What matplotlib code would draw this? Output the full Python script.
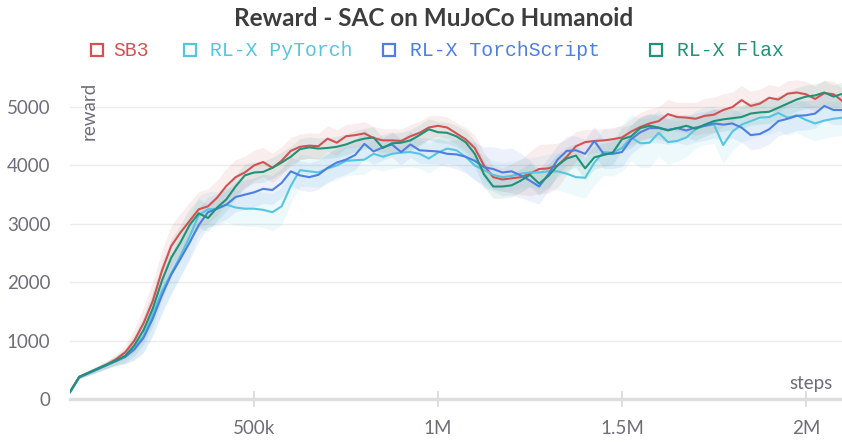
import numpy as np
import matplotlib
matplotlib.use("Agg")
import matplotlib.pyplot as plt
from matplotlib.patches import Rectangle
from matplotlib.ticker import FuncFormatter

# x grid in thousands of steps
steps_k = list(range(0, 2101, 25))

sb3 = [120, 380, 450, 520, 590, 680, 800, 1000, 1300, 1680,
       2200, 2620, 2850, 3050, 3250, 3300, 3450, 3650, 3800, 3880,
       4000, 4060, 3960, 4080, 4250, 4320, 4340, 4330, 4460, 4390,
       4500, 4520, 4550, 4470, 4430, 4430, 4420, 4500, 4560, 4650,
       4680, 4650, 4550, 4450, 4300, 4000, 3800, 3760, 3780, 3800,
       3860, 3940, 3950, 4000, 4150, 4330, 4400, 4420, 4430, 4450,
       4480, 4580, 4660, 4720, 4760, 4880, 4830, 4820, 4800, 4850,
       4870, 4950, 5000, 5120, 5020, 5060, 5160, 5130, 5230, 5250,
       5220, 5140, 5240, 5220, 5100]
pytorch = [120, 370, 440, 510, 580, 650, 730, 870, 1080, 1450,
           1850, 2150, 2450, 2780, 3150, 3250, 3260, 3330, 3280, 3260,
           3260, 3240, 3200, 3300, 3650, 3920, 3900, 3880, 3950, 4000,
           4080, 4090, 4100, 4200, 4150, 4200, 4220, 4230, 4200, 4120,
           4220, 4290, 4260, 4150, 4000, 3920, 3840, 3800, 3820, 3860,
           3880, 3880, 3900, 3900, 3860, 3800, 3790, 4050, 4230, 4220,
           4300, 4480, 4380, 4390, 4560, 4400, 4420, 4480, 4620, 4680,
           4700, 4350, 4580, 4700, 4760, 4820, 4830, 4900, 4820, 4860,
           4780, 4720, 4770, 4800, 4820]
torchscript = [120, 370, 440, 510, 580, 650, 720, 850, 1050, 1380,
               1780, 2130, 2400, 2680, 2980, 3200, 3260, 3330, 3460, 3500,
               3540, 3600, 3580, 3700, 3900, 3830, 3800, 3840, 3960, 4050,
               4100, 4180, 4370, 4240, 4310, 4360, 4230, 4360, 4260, 4250,
               4240, 4200, 4190, 4150, 4080, 3970, 3940, 3880, 3900, 3830,
               3740, 3640, 3850, 4100, 4250, 4260, 4200, 4420, 4200, 4200,
               4230, 4450, 4570, 4640, 4640, 4610, 4640, 4600, 4650, 4680,
               4720, 4700, 4720, 4650, 4520, 4540, 4620, 4760, 4800, 4850,
               4860, 4890, 5020, 4950, 4950]
flax = [120, 380, 450, 520, 590, 660, 740, 920, 1180, 1550,
        2030, 2420, 2680, 2980, 3180, 3100, 3280, 3420, 3640, 3830,
        3880, 3890, 3960, 4050, 4150, 4280, 4310, 4290, 4300, 4320,
        4360, 4420, 4460, 4480, 4300, 4380, 4390, 4430, 4520, 4620,
        4570, 4560, 4500, 4400, 4200, 3850, 3640, 3640, 3660, 3740,
        3840, 3690, 3820, 4000, 4120, 4170, 3950, 4140, 4180, 4220,
        4450, 4500, 4640, 4680, 4650, 4600, 4640, 4680, 4630, 4700,
        4760, 4790, 4810, 4830, 4890, 4910, 4920, 4990, 5060, 5130,
        5180, 5200, 5250, 5180, 5230]

# half-width of the shaded min/max band
sb3_spread = [20, 30, 40, 50, 60, 80, 120, 200, 280, 330,
              350, 350, 330, 320, 300, 300, 300, 300, 300, 280,
              260, 250, 250, 240, 230, 220, 220, 220, 220, 220,
              200, 200, 200, 200, 200, 200, 200, 200, 200, 200,
              180, 180, 180, 200, 220, 220, 200, 200, 250, 300,
              380, 420, 420, 380, 300, 250, 220, 200, 200, 200,
              200, 220, 250, 250, 250, 250, 250, 260, 280, 300,
              300, 280, 260, 250, 250, 250, 230, 220, 220, 220,
              220, 220, 220, 220, 220]
pytorch_spread = [20, 30, 40, 50, 60, 80, 120, 200, 280, 330,
                  350, 350, 350, 350, 330, 300, 300, 300, 300, 300,
                  300, 300, 320, 320, 300, 280, 260, 250, 250, 250,
                  250, 250, 250, 250, 250, 250, 250, 250, 250, 250,
                  250, 250, 250, 250, 250, 250, 250, 250, 250, 250,
                  250, 280, 300, 320, 320, 320, 350, 380, 400, 400,
                  400, 400, 420, 420, 400, 380, 350, 330, 320, 320,
                  320, 320, 320, 300, 300, 300, 300, 300, 300, 300,
                  300, 300, 300, 300, 300]
torchscript_spread = [20, 30, 40, 50, 60, 80, 120, 180, 250, 300,
                      320, 320, 300, 300, 280, 260, 250, 250, 250, 250,
                      250, 250, 250, 250, 250, 250, 250, 250, 250, 250,
                      250, 250, 250, 220, 220, 220, 220, 220, 220, 220,
                      220, 220, 250, 280, 320, 350, 380, 400, 400, 380,
                      350, 300, 280, 250, 250, 250, 250, 250, 250, 250,
                      250, 250, 250, 250, 250, 250, 250, 250, 250, 250,
                      250, 250, 250, 250, 250, 250, 250, 250, 250, 250,
                      250, 250, 250, 250, 250]
flax_spread = [20, 30, 40, 50, 60, 80, 120, 180, 250, 300,
               320, 320, 300, 280, 250, 230, 220, 200, 200, 200,
               180, 180, 180, 180, 180, 180, 180, 180, 180, 180,
               180, 180, 180, 180, 180, 180, 180, 180, 180, 180,
               180, 180, 180, 200, 220, 220, 200, 200, 200, 200,
               200, 200, 200, 200, 200, 200, 200, 200, 200, 200,
               200, 200, 200, 200, 200, 200, 200, 200, 200, 200,
               200, 200, 200, 200, 200, 200, 200, 200, 200, 200,
               200, 200, 200, 200, 200]

labels = ["SB3", "RL-X PyTorch", "RL-X TorchScript", "RL-X Flax"]
colors = ["#d45151", "#55c6e0", "#4d7fe0", "#1f9278"]
series = [sb3, pytorch, torchscript, flax]
spreads = [sb3_spread, pytorch_spread, torchscript_spread, flax_spread]

W, H = 842, 442
fig = plt.figure(figsize=(W / 100, H / 100), dpi=100)
ax = fig.add_axes([70 / W, 1 - 399 / H, 1 - 70 / W, (399 - 75) / H])

x = np.array(steps_k) * 1000
for vals, spr, c in zip(series, spreads, colors):
    v = np.array(vals, dtype=float)
    s = np.array(spr, dtype=float)
    ax.fill_between(x, v - s, v + s, color=c, alpha=0.1, lw=0)
for vals, c in zip(series, colors):
    ax.plot(x, vals, color=c, lw=1.5, solid_joinstyle="round")

ax.set_xlim(0, 2.098e6)
ax.set_ylim(0, 5550)
ax.set_yticks([0, 1000, 2000, 3000, 4000, 5000])
ax.set_xticks([5e5, 1e6, 1.5e6, 2e6])
ax.xaxis.set_major_formatter(FuncFormatter(lambda v, p: {5e5: "500k", 1e6: "1M", 1.5e6: "1.5M", 2e6: "2M"}.get(v, "")))

tick_col = "#6e6e7a"
ax.grid(axis="y", color="#ebebeb", lw=1)
ax.set_axisbelow(True)
for sp in ["top", "right", "left"]:
    ax.spines[sp].set_visible(False)
ax.spines["bottom"].set_color("#dedede")
ax.spines["bottom"].set_linewidth(2.5)
ax.tick_params(axis="y", length=0, pad=14, labelsize=13.5, labelcolor=tick_col)
ax.tick_params(axis="x", direction="inout", length=12, width=1.3, color="#dcdcdc",
               pad=9, labelsize=13.5, labelcolor=tick_col)
for lab in ax.get_xticklabels() + ax.get_yticklabels():
    lab.set_family("Lato")

def px(xp, yp):
    return xp / W, 1 - yp / H

fig.text(*px(89, 82), "reward", rotation=90, ha="center", va="top",
         fontsize=13.5, color=tick_col, family="Lato")
fig.text(*px(833, 384), "steps", ha="right", va="center",
         fontsize=13.5, color=tick_col, family="Lato")

fig.text(*px(434, 18), "Reward - SAC on MuJoCo Humanoid", ha="center", va="center",
         fontsize=17.5, fontweight="bold", color="#3d3d3d", family="Lato")

# legend, placed by hand to match the uneven spacing
sq_x = [91, 184, 383, 650]
txt_x = [113, 210, 410, 677]
for lab, c, sx, tx in zip(labels, colors, sq_x, txt_x):
    fig.add_artist(Rectangle(px(sx, 56), 12 / W, 12 / H, transform=fig.transFigure,
                             fill=False, edgecolor=c, lw=1.6))
    fig.text(*px(tx, 51), lab, ha="left", va="center", fontsize=14.2,
             color=c, family="Liberation Mono")

fig.savefig("out.png", dpi=100)
